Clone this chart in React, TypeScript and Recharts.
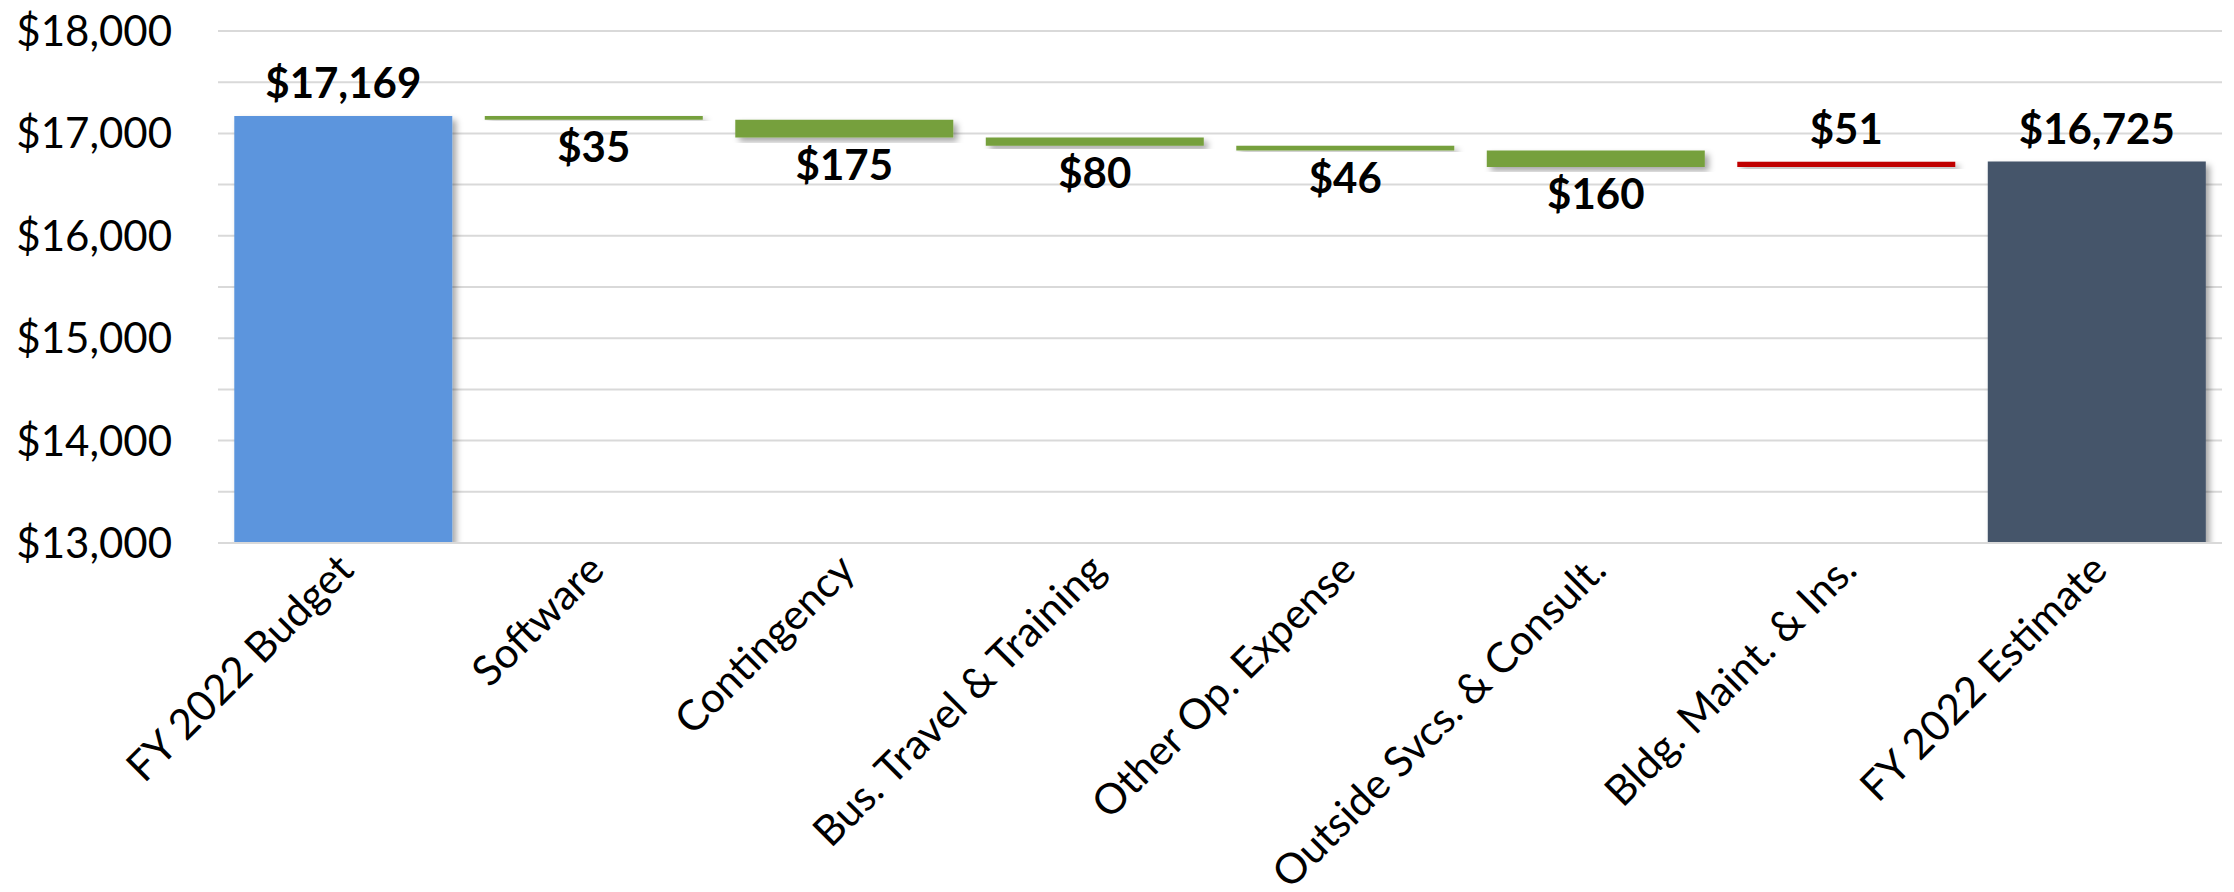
import { BarChart, Bar, XAxis, YAxis, CartesianGrid, Cell, LabelList } from 'recharts';

const categories = [
  'FY 2022 Budget',
  'Software',
  'Contingency',
  'Bus. Travel & Training',
  'Other Op. Expense',
  'Outside Svcs. & Consult.',
  'Bldg. Maint. & Ins.',
  'FY 2022 Estimate',
];
// totals are absolute, the rest are changes (negative = decrease)
const amounts = [17169, -35, -175, -80, -46, -160, 51, 16725];
const kinds = ['total', 'down', 'down', 'down', 'down', 'down', 'up', 'total'];
const valueLabels = ['$17,169', '$35', '$175', '$80', '$46', '$160', '$51', '$16,725'];
const yTicks = [13000, 13500, 14000, 14500, 15000, 15500, 16000, 16500, 17000, 17500, 18000];

const AXIS_MIN = 13000;
const FONT = 'Lato, "Open Sans", sans-serif';

const COLORS: Record<string, string> = {
  start: '#5B95DD',
  end: '#44546A',
  down: '#76A03D',
  up: '#C00000',
};

// build floating ranges from the running total
let running = 0;
const data = categories.map((name, i) => {
  const kind = kinds[i];
  let range: [number, number];
  if (kind === 'total') {
    running = amounts[i];
    range = [AXIS_MIN, amounts[i]];
  } else {
    const next = running + amounts[i];
    range = [Math.min(running, next), Math.max(running, next)];
    running = next;
  }
  const color = kind === 'total' ? (i === 0 ? COLORS.start : COLORS.end) : COLORS[kind];
  return { name, range, kind, label: valueLabels[i], color };
});

const fmtY = (v: number) => (v % 1000 === 0 ? `$${v.toLocaleString('en-US')}` : '');

function XTick({ x, y, payload }: any) {
  return (
    <text
      x={x}
      y={y}
      dx={-6}
      dy={24}
      transform={`rotate(-45 ${x} ${y})`}
      textAnchor="end"
      fontFamily={FONT}
      fontSize={42}
      fill="#000"
    >
      {payload.value}
    </text>
  );
}

function ValueLabel(props: any) {
  const { x, y, width, height, index } = props;
  const d = data[index];
  const cx = x + width / 2;
  const below = d.kind === 'down';
  const ty = below ? y + height + 42 : y - 18;
  return (
    <text
      x={cx}
      y={ty}
      textAnchor="middle"
      fontFamily={FONT}
      fontWeight={700}
      fontSize={42}
      fill="#000"
    >
      {d.label}
    </text>
  );
}

export default function App() {
  return (
    <div style={{ position: 'absolute', left: 0, top: 0, width: 2234, height: 892, background: '#fff' }}>
      <BarChart
        width={2234}
        height={892}
        data={data}
        margin={{ top: 31, right: 12, bottom: 0, left: 0 }}
        barCategoryGap="6.5%"
      >
        <defs>
          <filter id="shadow" x="-10%" y="-10%" width="130%" height="140%">
            <feDropShadow dx={4} dy={4} stdDeviation={3} floodColor="#000" floodOpacity={0.35} />
          </filter>
        </defs>
        <CartesianGrid vertical={false} stroke="#D9D9D9" strokeWidth={2} />
        <XAxis
          dataKey="name"
          interval={0}
          height={349}
          tick={<XTick />}
          tickLine={false}
          axisLine={{ stroke: '#D9D9D9', strokeWidth: 2 }}
        />
        <YAxis
          domain={[AXIS_MIN, 18000]}
          ticks={yTicks}
          interval={0}
          tickFormatter={fmtY}
          width={218}
          axisLine={false}
          tickLine={false}
          tickMargin={40}
          tick={{ fontFamily: FONT, fontSize: 42, fill: '#000' }}
          allowDataOverflow
        />
        <Bar dataKey="range" isAnimationActive={false} filter="url(#shadow)">
          {data.map((d) => (
            <Cell key={d.name} fill={d.color} />
          ))}
          <LabelList dataKey="label" content={<ValueLabel />} />
        </Bar>
      </BarChart>
    </div>
  );
}
